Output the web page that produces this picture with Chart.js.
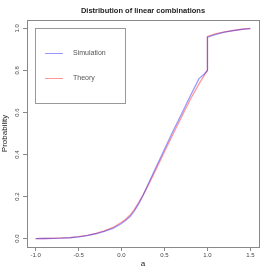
<!DOCTYPE html>
<html lang="en">
<head>
    <meta charset="UTF-8">
    <title>Distribution of linear combinations</title>
    <script src="https://cdn.jsdelivr.net/npm/chart.js"></script>
    <style>
        html, body {
            margin: 0;
            padding: 0;
            background: #ffffff;
        }
        #wrap {
            width: 273px;
            height: 273px;
        }
    </style>
</head>
<body>
    <div id="wrap"><canvas id="cdfChart" width="273" height="273"></canvas></div>

    <script>
        // values
        const xValues = [-1.0, -0.9, -0.8, -0.7, -0.6, -0.5, -0.4, -0.3, -0.2, -0.1, 0.0, 0.05, 0.1, 0.15, 0.2, 0.25, 0.3, 0.4, 0.5, 0.6, 0.7, 0.8, 0.9, 0.95, 1.0, 1.0, 1.1, 1.2, 1.3, 1.4, 1.5];
        const simValues = [0, 0.0005, 0.001, 0.002, 0.004, 0.008, 0.014, 0.023, 0.034, 0.049, 0.072, 0.087, 0.105, 0.132, 0.165, 0.205, 0.25, 0.338, 0.425, 0.512, 0.594, 0.678, 0.76, 0.778, 0.80, 0.958, 0.972, 0.982, 0.989, 0.995, 0.999];
        const theoryValues = [0, 0.0005, 0.0015, 0.003, 0.005, 0.009, 0.015, 0.025, 0.037, 0.053, 0.078, 0.093, 0.112, 0.139, 0.172, 0.207, 0.245, 0.328, 0.413, 0.498, 0.58, 0.662, 0.735, 0.768, 0.80, 0.962, 0.975, 0.984, 0.99, 0.996, 1.0];
        const xTicks = [-1.0, -0.5, 0.0, 0.5, 1.0, 1.5];
        const yTicks = [0.0, 0.2, 0.4, 0.6, 0.8, 1.0];
        const seriesNames = ["Simulation", "Theory"];

        const toPoints = (xs, ys) => xs.map((x, i) => ({ x: x, y: ys[i] }));

        // box around the plot, title and the R-style legend
        const framePlugin = {
            id: "frame",
            afterDraw(chart) {
                const ctx = chart.ctx;
                const a = chart.chartArea;
                ctx.save();
                ctx.strokeStyle = "#888888";
                ctx.lineWidth = 1;
                ctx.strokeRect(a.left + 0.5, a.top + 0.5, a.right - a.left, a.bottom - a.top);

                ctx.fillStyle = "#222222";
                ctx.font = "bold 7.5px 'Liberation Sans', Arial, sans-serif";
                ctx.textAlign = "center";
                ctx.textBaseline = "middle";
                ctx.fillText("Distribution of linear combinations", (a.left + a.right) / 2, 11);

                // legend box
                const lx = 35, ly = 28, lw = 90, lh = 75;
                ctx.strokeStyle = "#999999";
                ctx.strokeRect(lx + 0.5, ly + 0.5, lw, lh);
                ctx.font = "7px 'Liberation Sans', Arial, sans-serif";
                ctx.textAlign = "left";
                chart.data.datasets.forEach((ds, i) => {
                    const y = ly + 25 + i * 25;
                    ctx.strokeStyle = ds.borderColor;
                    ctx.lineWidth = 1;
                    ctx.beginPath();
                    ctx.moveTo(45, y + 0.5);
                    ctx.lineTo(63, y + 0.5);
                    ctx.stroke();
                    ctx.fillStyle = "#555555";
                    ctx.fillText(ds.label, 73, y);
                });
                ctx.restore();
            }
        };

        const ctx = document.getElementById("cdfChart").getContext("2d");
        new Chart(ctx, {
            type: "line",
            data: {
                datasets: [
                    {
                        label: seriesNames[0],
                        data: toPoints(xValues, simValues),
                        borderColor: "rgba(0, 0, 255, 0.4)",
                        borderWidth: 1.3,
                        pointRadius: 0,
                        tension: 0,
                        fill: false,
                    },
                    {
                        label: seriesNames[1],
                        data: toPoints(xValues, theoryValues),
                        borderColor: "rgba(255, 0, 0, 0.4)",
                        borderWidth: 1.3,
                        pointRadius: 0,
                        tension: 0,
                        fill: false,
                    },
                ],
            },
            options: {
                responsive: false,
                animation: false,
                events: [],
                layout: {
                    padding: { top: 20, right: 14, bottom: 0, left: 0 },
                },
                plugins: {
                    legend: { display: false },
                    title: { display: false },
                    tooltip: { enabled: false },
                },
                scales: {
                    x: {
                        type: "linear",
                        min: -1.1,
                        max: 1.6,
                        afterFit: (scale) => { scale.height = 26; },
                        afterBuildTicks: (scale) => { scale.ticks = xTicks.map(v => ({ value: v })); },
                        border: { display: false },
                        grid: {
                            drawOnChartArea: false,
                            drawTicks: true,
                            tickLength: 4,
                            color: "#888888",
                        },
                        ticks: {
                            padding: 1,
                            maxRotation: 0,
                            color: "#444444",
                            font: { family: "'Liberation Sans', Arial, sans-serif", size: 6 },
                            callback: (v) => v.toFixed(1),
                        },
                        title: {
                            display: true,
                            text: "a",
                            color: "#222222",
                            padding: { top: 0, bottom: 4 },
                            font: { family: "'Liberation Sans', Arial, sans-serif", size: 8 },
                        },
                    },
                    y: {
                        type: "linear",
                        min: -0.04,
                        max: 1.04,
                        afterFit: (scale) => { scale.width = 27; },
                        afterBuildTicks: (scale) => { scale.ticks = yTicks.map(v => ({ value: v })); },
                        border: { display: false },
                        grid: {
                            drawOnChartArea: false,
                            drawTicks: true,
                            tickLength: 4,
                            color: "#888888",
                        },
                        ticks: {
                            padding: 1,
                            minRotation: 90,
                            maxRotation: 90,
                            crossAlign: "center",
                            color: "#444444",
                            font: { family: "'Liberation Sans', Arial, sans-serif", size: 6 },
                            callback: (v) => v.toFixed(1),
                        },
                        title: {
                            display: true,
                            text: "Probability",
                            color: "#222222",
                            padding: 0,
                            font: { family: "'Liberation Sans', Arial, sans-serif", size: 8 },
                        },
                    },
                },
            },
            plugins: [framePlugin],
        });
    </script>
</body>
</html>
